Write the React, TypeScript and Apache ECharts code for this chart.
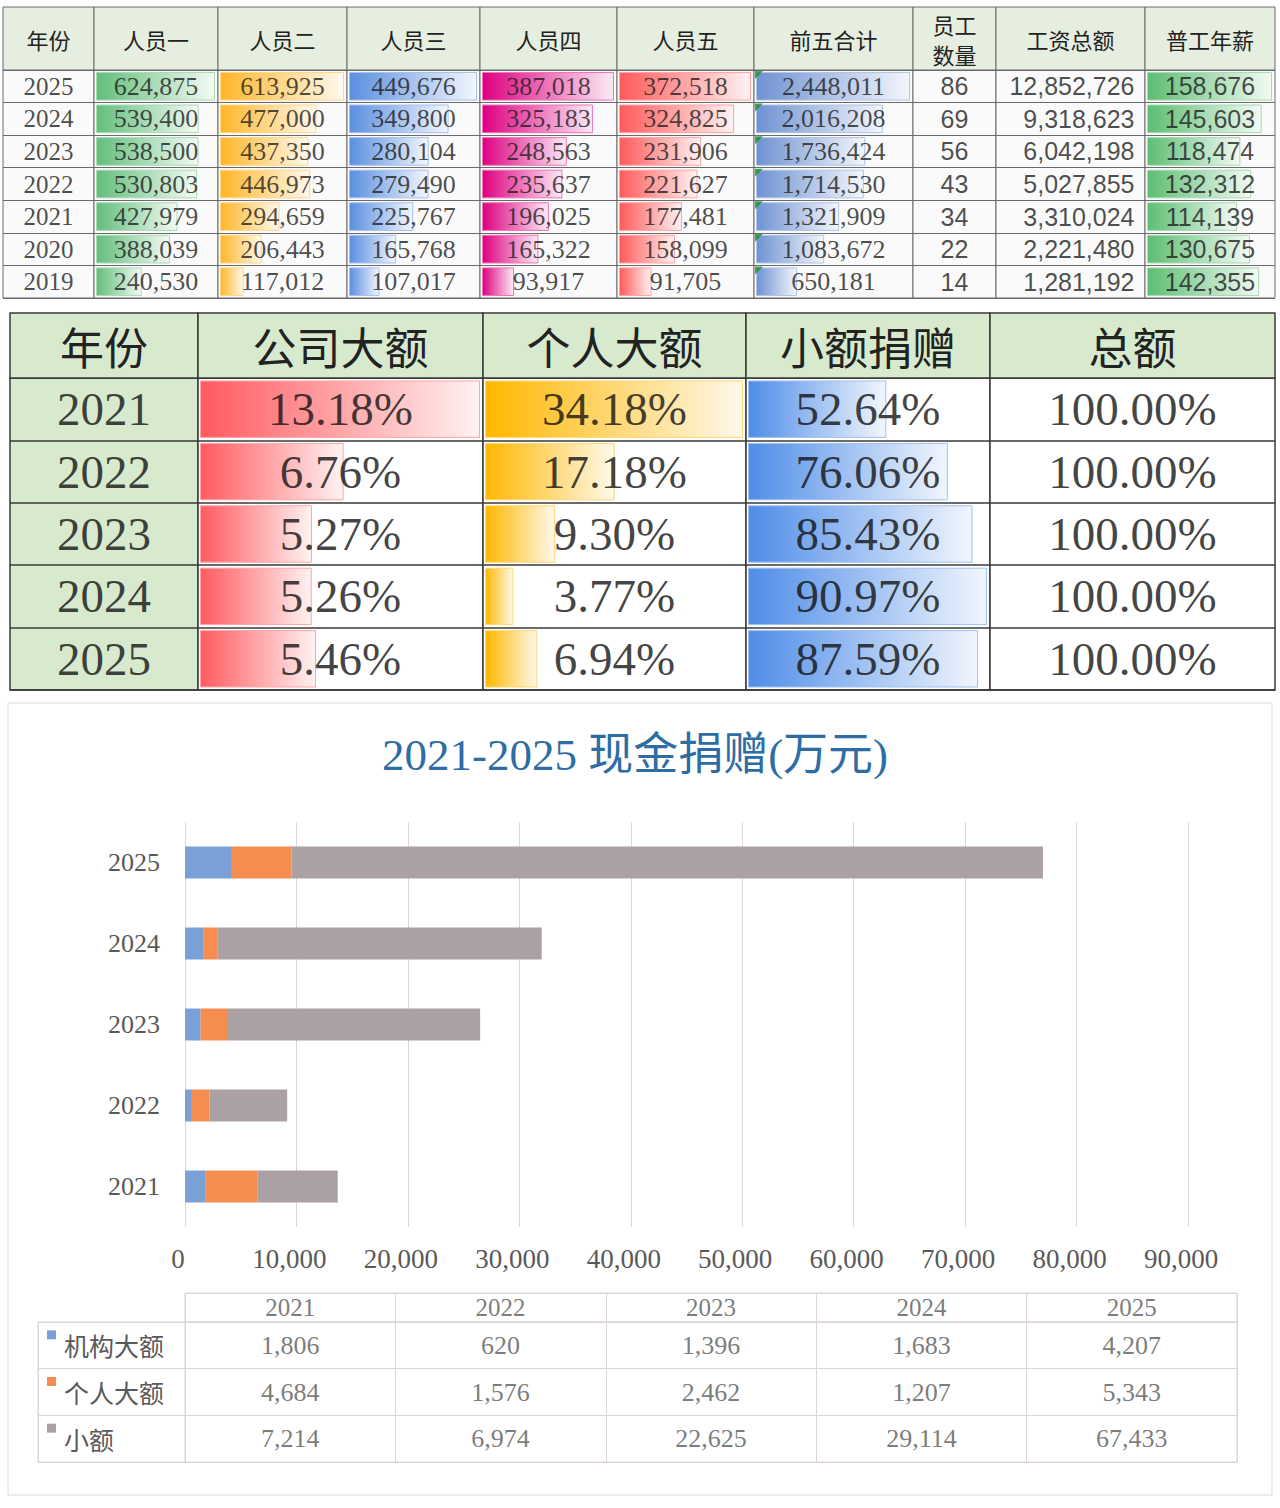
import React, { useEffect, useRef } from "react";
import * as echarts from "echarts";

// ---------------- data: table 1 (rows top → bottom) ----------------
const years1 = ["2025", "2024", "2023", "2022", "2021", "2020", "2019"];
const person1 = [624875, 539400, 538500, 530803, 427979, 388039, 240530];
const person2 = [613925, 477000, 437350, 446973, 294659, 206443, 117012];
const person3 = [449676, 349800, 280104, 279490, 225767, 165768, 107017];
const person4 = [387018, 325183, 248563, 235637, 196025, 165322, 93917];
const person5 = [372518, 324825, 231906, 221627, 177481, 158099, 91705];
const top5Total = [2448011, 2016208, 1736424, 1714530, 1321909, 1083672, 650181];
const staffCount = [86, 69, 56, 43, 34, 22, 14];
const payrollTotal = [12852726, 9318623, 6042198, 5027855, 3310024, 2221480, 1281192];
const avgSalary = [158676, 145603, 118474, 132312, 114139, 130675, 142355];
const headers1 = ["年份", "人员一", "人员二", "人员三", "人员四", "人员五", "前五合计", "员工\n数量", "工资总额", "普工年薪"];

// ---------------- data: table 2 ----------------
const years2 = ["2021", "2022", "2023", "2024", "2025"];
const companyBig = [13.18, 6.76, 5.27, 5.26, 5.46];
const individualBig = [34.18, 17.18, 9.3, 3.77, 6.94];
const smallDonation = [52.64, 76.06, 85.43, 90.97, 87.59];
const totalShare = [100, 100, 100, 100, 100];
const headers2 = ["年份", "公司大额", "个人大额", "小额捐赠", "总额"];

// ---------------- data: chart ----------------
const chartTitle = "2021-2025 现金捐赠(万元)";
const chartYears = ["2021", "2022", "2023", "2024", "2025"];
const institutionBig = [1806, 620, 1396, 1683, 4207];
const personalBig = [4684, 1576, 2462, 1207, 5343];
const smallAmount = [7214, 6974, 22625, 29114, 67433];
const seriesNames = ["机构大额", "个人大额", "小额"];
const xMin = 0;
const xMax = 90000;
const xStep = 10000;

// ---------------- layout & style ----------------
const SERIF = '"Liberation Serif", "DejaVu Serif", "Noto Sans CJK SC", serif';
const CJK = '"Noto Sans CJK SC", sans-serif';
const NARROW = '"Liberation Sans Narrow", "Liberation Sans", "Noto Sans CJK SC", sans-serif';

const t1X = [3, 94, 218, 347, 480, 617, 754, 913, 996, 1145, 1275];
const t1HeadTop = 7;
const t1HeadBottom = 70;
const t1Bottom = 298;

const t2X = [10, 198, 483, 746, 990, 1275];
const t2HeadTop = 313;
const t2HeadBottom = 378;
const t2Bottom = 690;

const seriesColors = ["#7aa0d8", "#f48d4f", "#aba1a2"];

const fmtInt = (v: number) => v.toLocaleString("en-US");
const fmtPct = (v: number) => v.toFixed(2) + "%";

function mix(hex: string, t: number) {
  const n = parseInt(hex.slice(1), 16);
  const r = (n >> 16) & 255, g = (n >> 8) & 255, b = n & 255;
  const f = (c: number) => Math.round(c + (255 - c) * t);
  return `rgb(${f(r)},${f(g)},${f(b)})`;
}

type Ctx = { grid: any[]; xAxis: any[]; yAxis: any[]; series: any[]; graphic: any[] };

function addColumn(ctx: Ctx, o: any) {
  const gi = ctx.grid.length;
  const w = o.x1 - o.x0;
  ctx.grid.push({
    left: o.x0, top: o.top, width: w, height: o.bottom - o.top,
    show: true, backgroundColor: o.bg, borderColor: o.border, borderWidth: o.borderWidth,
    containLabel: false, outerBoundsMode: "none",
  });
  let min = 0, max = 1;
  if (o.bar) {
    const m = Math.max(...o.values);
    const s = (w - o.padL - o.padR) / m;
    min = -o.padL / s;
    max = m + o.padR / s;
  }
  ctx.xAxis.push({ type: "value", gridIndex: gi, min, max, show: false });
  ctx.yAxis.push({
    type: "category", gridIndex: gi, data: o.cats, inverse: true,
    axisLine: { show: false }, axisTick: { show: false }, axisLabel: { show: false },
    splitLine: { show: true, lineStyle: { color: o.border, width: o.borderWidth } },
  });
  if (o.bar) {
    ctx.series.push({
      type: "bar", xAxisIndex: gi, yAxisIndex: gi, data: o.values, barWidth: o.barWidth, silent: true,
      itemStyle: {
        color: new echarts.graphic.LinearGradient(0, 0, 1, 0, [
          { offset: 0, color: o.bar },
          { offset: 1, color: mix(o.bar, 0.92) },
        ]),
        borderColor: mix(o.bar, 0.45), borderWidth: 1,
      },
    });
  }
  const tx = o.align === "right" ? max - ((max - min) * 10) / w : (min + max) / 2;
  ctx.series.push({
    type: "scatter", xAxisIndex: gi, yAxisIndex: gi, silent: true, z: 5,
    data: o.labels.map((_: string, i: number) => [tx, i]),
    symbolSize: 1, itemStyle: { color: "rgba(0,0,0,0)" },
    label: {
      show: true, position: o.align === "right" ? "left" : "inside", distance: 0,
      formatter: (p: any) => o.labels[p.dataIndex],
      fontFamily: o.font, fontSize: o.size, color: o.color || "#1e1e1e",
    },
  });
  if (o.triangle) {
    const rowH = (o.bottom - o.top) / o.cats.length;
    ctx.series.push({
      type: "scatter", xAxisIndex: gi, yAxisIndex: gi, silent: true, z: 6,
      data: o.labels.map((_: string, i: number) => [min, i]),
      symbol: "path://M0,0L10,0L0,10Z", symbolSize: 8, symbolOffset: [5, -(rowH / 2 - 5)],
      itemStyle: { color: "#1f8f2a" },
    });
  }
}

function addHeader(ctx: Ctx, xs: number[], top: number, bottom: number, texts: string[], st: any) {
  for (let i = 0; i < texts.length; i++) {
    ctx.graphic.push({
      type: "rect", z: 1,
      shape: { x: xs[i], y: top, width: xs[i + 1] - xs[i], height: bottom - top },
      style: { fill: st.bg, stroke: st.border, lineWidth: st.borderWidth },
    });
    ctx.graphic.push({
      type: "text", z: 2,
      x: (xs[i] + xs[i + 1]) / 2, y: (top + bottom) / 2,
      style: {
        text: texts[i], fill: "#222", fontSize: st.size, fontFamily: CJK,
        lineHeight: st.lineHeight, align: "center", verticalAlign: "middle",
      },
    });
  }
}

function addCatGrid(ctx: Ctx, o: any) {
  const gi = ctx.grid.length;
  ctx.grid.push({
    left: o.left, top: o.top, width: o.width, height: o.height,
    show: true, backgroundColor: "#fff", borderColor: o.border, borderWidth: 1,
    containLabel: false, outerBoundsMode: "none",
  });
  ctx.xAxis.push({
    type: "category", gridIndex: gi, data: o.xCats,
    axisLine: { show: false }, axisTick: { show: false }, axisLabel: { show: false },
    splitLine: { show: true, lineStyle: { color: o.border, width: 1 } },
  });
  ctx.yAxis.push({
    type: "category", gridIndex: gi, data: o.yCats, inverse: true,
    axisLine: { show: false }, axisTick: { show: false },
    axisLabel: o.yLabel || { show: false },
    splitLine: { show: true, lineStyle: { color: o.border, width: 1 } },
  });
  if (o.cells) {
    const data: any[] = [];
    const texts: string[] = [];
    o.cells.forEach((row: string[], yi: number) =>
      row.forEach((t: string, xi: number) => {
        data.push([xi, yi]);
        texts.push(t);
      })
    );
    ctx.series.push({
      type: "scatter", xAxisIndex: gi, yAxisIndex: gi, silent: true, z: 5,
      data, symbolSize: 1, itemStyle: { color: "rgba(0,0,0,0)" },
      label: {
        show: true, position: "inside",
        formatter: (p: any) => texts[p.dataIndex],
        fontFamily: SERIF, fontSize: o.size, color: "#595959",
      },
    });
  }
}

function buildOption() {
  const ctx: Ctx = { grid: [], xAxis: [], yAxis: [], series: [], graphic: [] };

  // chart frame
  ctx.graphic.push({
    type: "rect", z: -10,
    shape: { x: 8, y: 703, width: 1264, height: 792 },
    style: { fill: "#fff", stroke: "#dcd8d8", lineWidth: 1 },
  });

  // ---------- table 1 ----------
  const b1 = { border: "#6a6a6a", borderWidth: 1 };
  addHeader(ctx, t1X, t1HeadTop, t1HeadBottom, headers1, { bg: "#e6eee0", ...b1, size: 22, lineHeight: 30 });
  const t1Cols: any[] = [
    { values: years1, labels: years1, font: SERIF, size: 25 },
    { values: person1, bar: "#63be7b" },
    { values: person2, bar: "#ffb628" },
    { values: person3, bar: "#5b8fe0" },
    { values: person4, bar: "#de0080" },
    { values: person5, bar: "#ff5a5a" },
    { values: top5Total, bar: "#6f92d2", triangle: true },
    { values: staffCount, font: NARROW, size: 25 },
    { values: payrollTotal, font: NARROW, size: 25, align: "right" },
    { values: avgSalary, bar: "#5dbd73", font: NARROW, size: 25 },
  ];
  t1Cols.forEach((c, i) => {
    addColumn(ctx, {
      x0: t1X[i], x1: t1X[i + 1], top: t1HeadBottom, bottom: t1Bottom,
      cats: years1, values: c.values,
      labels: c.labels || c.values.map((v: number) => fmtInt(v)),
      bar: c.bar, padL: 2, padR: 3, barWidth: "88%",
      font: c.font || SERIF, size: c.size || 26, align: c.align,
      bg: "#fafafa", ...b1, triangle: c.triangle,
    });
  });

  // ---------- table 2 ----------
  const b2 = { border: "#3a3a3a", borderWidth: 1.5 };
  addHeader(ctx, t2X, t2HeadTop, t2HeadBottom, headers2, { bg: "#d7eacd", ...b2, size: 44, lineHeight: 50 });
  const t2Cols: any[] = [
    { values: years2, labels: years2, bg: "#d7eacd" },
    { values: companyBig, bar: "#ff5a5f" },
    { values: individualBig, bar: "#ffb700" },
    { values: smallDonation, bar: "#4f8de8" },
    { values: totalShare },
  ];
  t2Cols.forEach((c, i) => {
    addColumn(ctx, {
      x0: t2X[i], x1: t2X[i + 1], top: t2HeadBottom, bottom: t2Bottom,
      cats: years2, values: c.values,
      labels: c.labels || c.values.map((v: number) => fmtPct(v)),
      bar: c.bar, padL: 2, padR: 3, barWidth: "92%",
      font: SERIF, size: 47, color: "#111",
      bg: c.bg || "#fff", ...b2,
    });
  });

  // ---------- chart ----------
  ctx.graphic.push({
    type: "text", z: 2, x: 635, y: 755,
    style: {
      text: chartTitle, fill: "#2e6da4", fontSize: 45, fontFamily: SERIF,
      align: "center", verticalAlign: "middle",
    },
  });
  const gi = ctx.grid.length;
  ctx.grid.push({ left: 185, top: 822, width: 1003, height: 405, containLabel: false, outerBoundsMode: "none" });
  ctx.xAxis.push({
    type: "value", gridIndex: gi, min: xMin, max: xMax, interval: xStep,
    axisLine: { show: false }, axisTick: { show: false },
    splitLine: { show: true, lineStyle: { color: "#dcd6d6", width: 1 } },
    axisLabel: {
      formatter: (v: number) => fmtInt(v), color: "#595959", fontSize: 27, fontFamily: SERIF,
      margin: 18, padding: [0, 14, 0, 0],
    },
  });
  ctx.yAxis.push({
    type: "category", gridIndex: gi, data: chartYears,
    axisLine: { show: false }, axisTick: { show: false }, splitLine: { show: false },
    axisLabel: { color: "#595959", fontSize: 26, fontFamily: SERIF, margin: 25 },
  });
  [institutionBig, personalBig, smallAmount].forEach((vals, k) => {
    ctx.series.push({
      type: "bar", name: seriesNames[k], xAxisIndex: gi, yAxisIndex: gi, stack: "total",
      data: vals, barWidth: 32, itemStyle: { color: seriesColors[k] }, silent: true,
    });
  });

  // ---------- chart data table ----------
  const tb = "#ddd5d5";
  addCatGrid(ctx, {
    left: 185, top: 1293, width: 1052, height: 29, border: tb,
    xCats: chartYears, yCats: ["年份"], cells: [chartYears], size: 25,
  });
  addCatGrid(ctx, {
    left: 185, top: 1322, width: 1052, height: 140, border: tb,
    xCats: chartYears, yCats: seriesNames, size: 26,
    cells: [institutionBig, personalBig, smallAmount].map((r) => r.map((v) => fmtInt(v))),
  });
  const rich: any = {
    t: { fontFamily: CJK, fontSize: 25, color: "#595959", padding: [0, 0, 0, 8], lineHeight: 30 },
  };
  seriesColors.forEach((c, i) => {
    rich["s" + i] = { width: 9, height: 9, backgroundColor: c, verticalAlign: "top" };
  });
  addCatGrid(ctx, {
    left: 38, top: 1322, width: 147, height: 140, border: tb,
    xCats: [""], yCats: seriesNames,
    yLabel: {
      show: true, inside: true, margin: 9,
      formatter: (v: string, i: number) => `{s${i}|}{t|${v}}`, rich,
    },
  });

  return {
    animation: false,
    backgroundColor: "#ffffff",
    grid: ctx.grid,
    xAxis: ctx.xAxis,
    yAxis: ctx.yAxis,
    series: ctx.series,
    graphic: ctx.graphic,
  };
}

export default function App() {
  const ref = useRef<HTMLDivElement>(null);
  useEffect(() => {
    if (!ref.current) return;
    const chart = echarts.init(ref.current, undefined, { renderer: "svg" });
    chart.setOption(buildOption() as any);
    return () => chart.dispose();
  }, []);
  return (
    <div
      ref={ref}
      style={{ position: "absolute", left: 0, top: 0, width: 1280, height: 1508, background: "#fff" }}
    />
  );
}
